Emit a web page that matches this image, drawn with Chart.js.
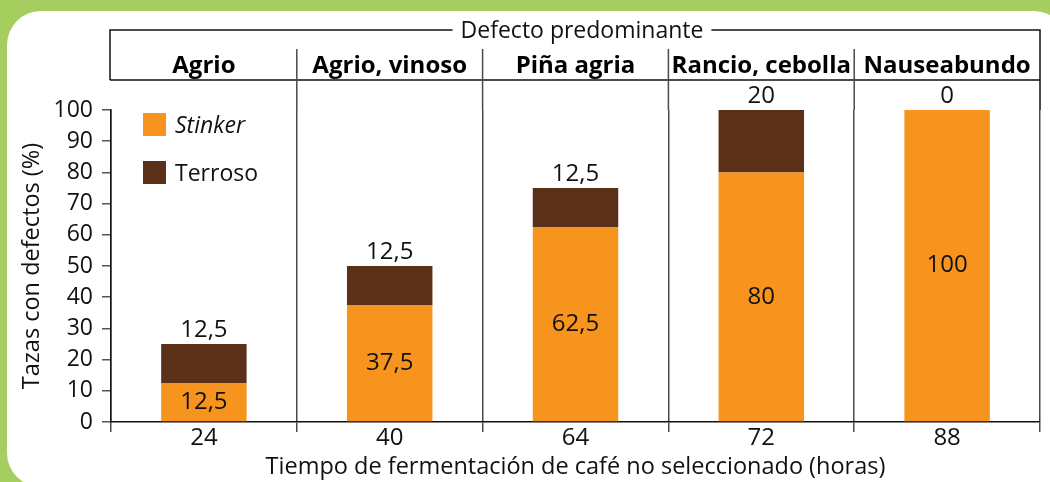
<!DOCTYPE html>
<html><head><meta charset="utf-8">
<script src="https://cdn.jsdelivr.net/npm/chart.js@4/dist/chart.umd.min.js"></script>
<style>
html,body{margin:0;padding:0;width:1050px;height:482px;overflow:hidden;background:#A5CE5E;}
#card{position:absolute;left:7px;top:11px;width:1061px;height:476px;background:#fff;border-radius:34px;}
#wrap{position:absolute;left:0;top:0;width:1050px;height:482px;}
</style></head><body>
<div id="card"></div>
<div id="wrap"><canvas id="c" width="1050" height="482"></canvas></div>
<script>
const hours = ['24', '40', '64', '72', '88'];
const defects = ['Agrio', 'Agrio, vinoso', 'Piña agria', 'Rancio, cebolla', 'Nauseabundo'];
const stinker = [12.5, 37.5, 62.5, 80, 100];
const terroso = [12.5, 12.5, 12.5, 20, 0];
const yTicks = [0, 10, 20, 30, 40, 50, 60, 70, 80, 90, 100];
const headerTitle = 'Defecto predominante';
const xTitle = 'Tiempo de fermentación de café no seleccionado (horas)';
const yTitle = 'Tazas con defectos (%)';

const FONT = "'Open Sans', sans-serif";
const ORANGE = '#F7941E';
const BROWN = '#5A3118';
const fmt = v => String(v).replace('.', ',');

const headerPlugin = {
  id: 'header',
  afterDraw(chart) {
    const ctx = chart.ctx, xs = chart.scales.x, a = chart.chartArea;
    const top = 30, row = 49, bot = 80, left = xs.left - 1, right = xs.right;
    const n = xs.ticks.length;
    const bounds = [];
    for (let i = 1; i < n; i++) bounds.push((xs.getPixelForTick(i - 1) + xs.getPixelForTick(i)) / 2);
    ctx.save();
    ctx.strokeStyle = '#111';
    ctx.lineWidth = 1.5;
    // title
    ctx.font = "23px " + FONT;
    const tw = ctx.measureText(headerTitle).width;
    const cx = (left + right) / 2 + 7;
    ctx.fillStyle = '#111';
    ctx.textAlign = 'center';
    ctx.textBaseline = 'alphabetic';
    ctx.fillText(headerTitle, cx, 38);
    const gap = 8;
    ctx.beginPath();
    ctx.moveTo(left, bot); ctx.lineTo(left, top); ctx.lineTo(cx - tw / 2 - gap, top);
    ctx.moveTo(cx + tw / 2 + gap, top); ctx.lineTo(right, top); ctx.lineTo(right, a.top);
    ctx.moveTo(left, bot); ctx.lineTo(right, bot);
    ctx.stroke();
    ctx.strokeStyle = '#4a4a4a';
    ctx.beginPath();
    bounds.forEach(b => { ctx.moveTo(b, row); ctx.lineTo(b, a.top); });
    ctx.stroke();
    // category names
    ctx.font = "bold 24px " + FONT;
    ctx.fillStyle = '#000';
    defects.forEach((d, i) => ctx.fillText(d, xs.getPixelForTick(i), 73));
    // legend
    chart.data.datasets.forEach((ds, i) => {
      const ly = 113 + i * 48;
      ctx.fillStyle = ds.backgroundColor;
      ctx.fillRect(a.left + 32, ly, 23, 23);
      ctx.fillStyle = '#111';
      ctx.textAlign = 'left';
      ctx.font = (i === 0 ? 'italic ' : '') + "23px " + FONT;
      ctx.fillText(ds.label, a.left + 64, ly + 20);
    });
    // data labels
    ctx.font = "24px " + FONT;
    ctx.textAlign = 'center';
    ctx.fillStyle = '#111';
    const m0 = chart.getDatasetMeta(0), m1 = chart.getDatasetMeta(1);
    m0.data.forEach((el, i) => {
      ctx.textBaseline = 'middle';
      ctx.fillText(fmt(stinker[i]), el.x, (el.y + el.base) / 2);
    });
    m1.data.forEach((el, i) => {
      ctx.textBaseline = 'alphabetic';
      ctx.fillText(fmt(terroso[i]), el.x, el.y - 7);
    });
    ctx.restore();
  }
};

new Chart(document.getElementById('c'), {
  type: 'bar',
  data: {
    labels: hours,
    datasets: [
      { label: 'Stinker', data: stinker, backgroundColor: ORANGE, barPercentage: 0.46, categoryPercentage: 1 },
      { label: 'Terroso', data: terroso, backgroundColor: BROWN, barPercentage: 0.46, categoryPercentage: 1 }
    ]
  },
  options: {
    responsive: false,
    animation: false,
    layout: { padding: { left: 0, right: 10, top: 110, bottom: 0 } },
    plugins: { legend: { display: false }, tooltip: { enabled: false } },
    scales: {
      x: {
        stacked: true,
        grid: { offset: true, color: '#4a4a4a', lineWidth: 1.5, tickLength: 10, drawOnChartArea: true },
        border: { color: '#111', width: 1.5 },
        ticks: { color: '#111', font: { family: FONT, size: 24 }, padding: -8, autoSkip: false, maxRotation: 0 },
        title: { display: true, text: xTitle, color: '#111', font: { family: FONT, size: 23.5 }, padding: { top: 0, bottom: 1 } },
        afterFit(s) { s.height = 60; }
      },
      y: {
        stacked: true,
        min: 0, max: 100,
        afterBuildTicks(s) { s.ticks = yTicks.map(v => ({ value: v })); },
        grid: { drawOnChartArea: false, tickLength: 9, color: '#555', lineWidth: 1.5 },
        border: { color: '#111', width: 1.5 },
        ticks: { color: '#111', font: { family: FONT, size: 23 }, padding: 9, autoSkip: false },
        title: { display: true, text: yTitle, color: '#111', font: { family: FONT, size: 23.5 }, padding: { top: 18, bottom: 0 } },
        afterFit(s) { s.width = 111; }
      }
    }
  },
  plugins: [headerPlugin]
});
</script>
</body></html>
